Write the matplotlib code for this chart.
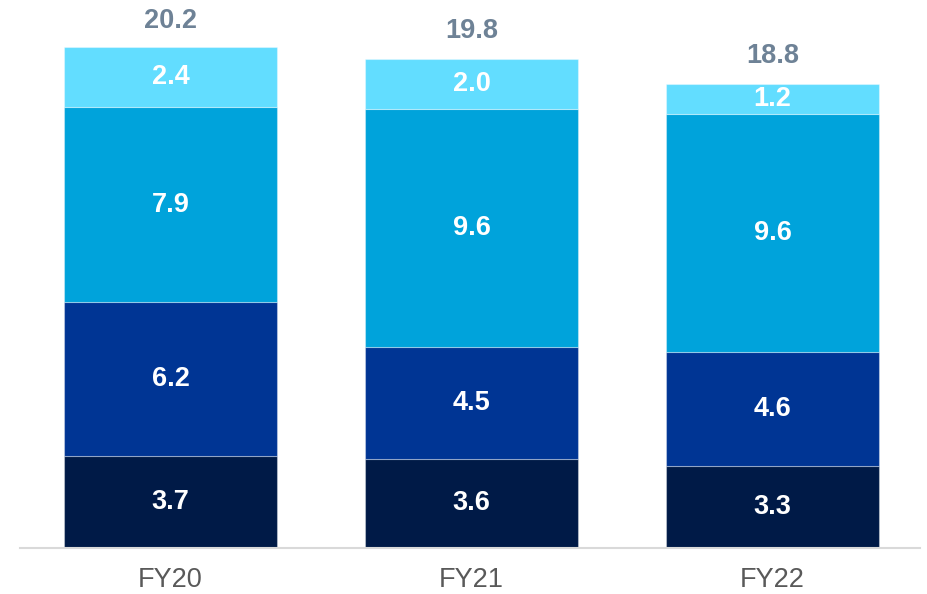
import matplotlib.pyplot as plt
import numpy as np

years = ["FY20", "FY21", "FY22"]
seg1 = [3.7, 3.6, 3.3]
seg2 = [6.2, 4.5, 4.6]
seg3 = [7.9, 9.6, 9.6]
seg4 = [2.4, 2.0, 1.2]
totals = [20.2, 19.8, 18.8]

colors = ["#001A47", "#003594", "#00A3DB", "#62DDFF"]

plt.rcParams['font.family'] = ['Liberation Sans', 'DejaVu Sans']

fig = plt.figure(figsize=(9.28, 5.94), dpi=100)
ax = fig.add_axes([20 / 928, 1 - 548 / 594, 900 / 928, 545.6 / 594])

x = np.arange(len(years))
bottom = np.zeros(len(years))
for vals, c in zip([seg1, seg2, seg3, seg4], colors):
    ax.bar(x, vals, width=0.708, bottom=bottom, color=c,
           edgecolor=(1, 1, 1, 0.35), linewidth=0.8)
    for xi, b, v in zip(x, bottom, vals):
        ax.text(xi, b + v / 2, f"{v:.1f}", ha="center", va="center",
                color="white", fontsize=19.5, fontweight="bold")
    bottom += np.array(vals)

for xi, t in zip(x, totals):
    ax.text(xi, t + 1.05, f"{t:.1f}", ha="center", va="center",
            color="#6E8296", fontsize=19.5, fontweight="bold")

ax.set_xlim(-0.5, 2.49)
ax.set_ylim(0, 22)
ax.set_xticks(x)
ax.set_xticklabels(years, fontsize=19.5, color="#595959")
ax.tick_params(axis="x", length=0, pad=14)
ax.set_yticks([])
for s in ["top", "right", "left"]:
    ax.spines[s].set_visible(False)
ax.spines["bottom"].set_color("#D9D9D9")
ax.spines["bottom"].set_linewidth(1.5)

fig.savefig("out.png", dpi=100)
